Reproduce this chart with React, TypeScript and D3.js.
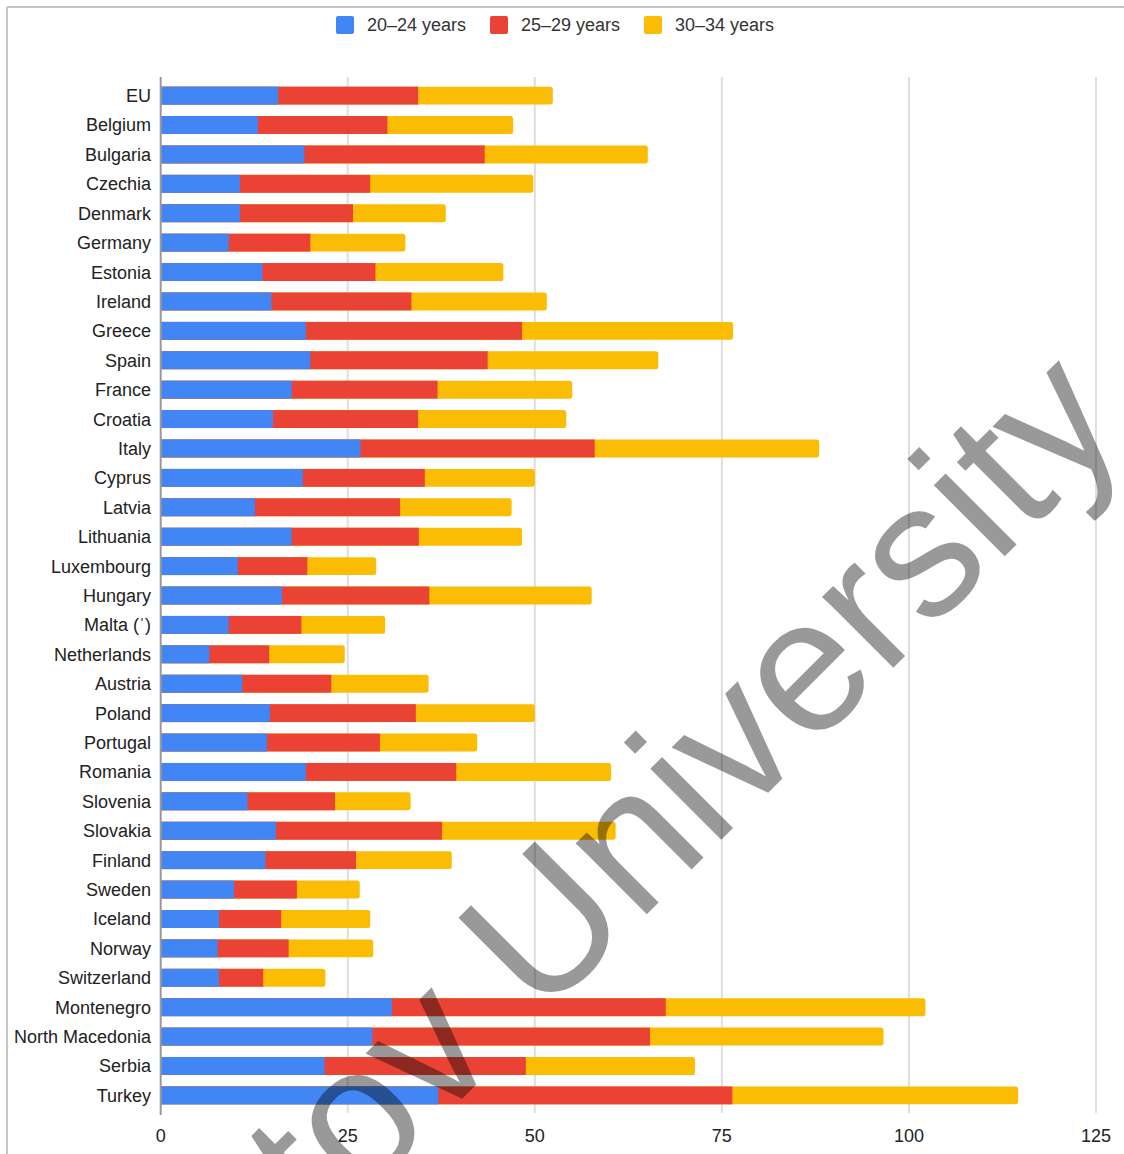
import React from "react";
import * as d3 from "d3";

const countries = [
  "EU", "Belgium", "Bulgaria", "Czechia", "Denmark", "Germany", "Estonia", "Ireland",
  "Greece", "Spain", "France", "Croatia", "Italy", "Cyprus", "Latvia", "Lithuania",
  "Luxembourg", "Hungary", "Malta (\u02c8)", "Netherlands", "Austria", "Poland", "Portugal",
  "Romania", "Slovenia", "Slovakia", "Finland", "Sweden", "Iceland", "Norway",
  "Switzerland", "Montenegro", "North Macedonia", "Serbia", "Turkey",
];

const age20to24 = [
  15.7, 13.0, 19.2, 10.6, 10.6, 9.1, 13.6, 14.8, 19.4, 20.0, 17.5, 15.0, 26.7, 19.0,
  12.6, 17.5, 10.3, 16.2, 9.1, 6.5, 10.9, 14.6, 14.2, 19.4, 11.6, 15.4, 14.0, 9.8,
  7.8, 7.6, 7.8, 30.9, 28.3, 21.9, 37.1,
];
const age25to29 = [
  18.7, 17.3, 24.1, 17.4, 15.1, 10.9, 15.1, 18.7, 28.9, 23.7, 19.5, 19.4, 31.3, 16.3,
  19.4, 17.0, 9.3, 19.7, 9.7, 8.0, 11.9, 19.5, 15.1, 20.1, 11.7, 22.2, 12.1, 8.4,
  8.3, 9.5, 5.9, 36.6, 37.1, 26.9, 39.3,
];
const age30to34 = [
  18.0, 16.8, 21.8, 21.8, 12.4, 12.7, 17.1, 18.1, 28.2, 22.8, 18.0, 19.8, 30.0, 14.7,
  14.9, 13.8, 9.2, 21.7, 11.2, 10.1, 13.0, 15.9, 13.0, 20.7, 10.1, 23.2, 12.8, 8.4,
  11.9, 11.3, 8.3, 34.7, 31.2, 22.6, 38.2,
];

const seriesNames = ["20\u201324 years", "25\u201329 years", "30\u201334 years"];
const seriesColors = ["#4285F4", "#EA4335", "#FBBC04"];
const xTicks = [0, 25, 50, 75, 100, 125];

const FONT = "Arial, 'Liberation Sans', sans-serif";

export default function App() {
  const W = 1124;
  const H = 1154;
  const x = d3.scaleLinear().domain([0, 125]).range([160.7, 1096]);
  const y = d3
    .scaleBand<string>()
    .domain(countries)
    .range([80.9, 1110.1])
    .paddingInner(0.39)
    .paddingOuter(0.195);

  const rows = countries.map((c, i) => {
    const a = age20to24[i];
    const b = age25to29[i];
    const cc = age30to34[i];
    return { c, a, ab: a + b, abc: a + b + cc };
  });

  const legendX = [336, 490, 644];
  const bh = y.bandwidth();

  return (
    <svg width={W} height={H} style={{ display: "block", position: "absolute", left: 0, top: 0 }} fontFamily={FONT}>
      <rect x={0} y={0} width={W} height={H} fill="#fff" />
      {/* frame */}
      <line x1={7} y1={7} x2={W} y2={7} stroke="#c6c6c6" strokeWidth={2} />
      <line x1={7} y1={7} x2={7} y2={H} stroke="#c6c6c6" strokeWidth={2} />

      {/* legend */}
      {seriesNames.map((s, i) => (
        <g key={s}>
          <rect x={legendX[i]} y={16} width={18} height={18} rx={2} fill={seriesColors[i]} />
          <text x={legendX[i] + 31} y={31} fontSize={18} fill="#333">{s}</text>
        </g>
      ))}

      {/* gridlines */}
      {xTicks.slice(1).map((t) => (
        <line key={t} x1={x(t)} x2={x(t)} y1={77} y2={1113} stroke="#dedede" strokeWidth={2} />
      ))}

      {/* bars */}
      {rows.map((r) => {
        const yy = y(r.c)!;
        return (
          <g key={r.c}>
            <rect x={x(0)} y={yy} width={x(r.abc) - x(0)} height={bh} rx={2.5} fill={seriesColors[2]} />
            <rect x={x(0)} y={yy} width={x(r.ab) - x(0)} height={bh} fill={seriesColors[1]} />
            <rect x={x(0)} y={yy} width={x(r.a) - x(0)} height={bh} fill={seriesColors[0]} />
          </g>
        );
      })}

      {/* axis line */}
      <line x1={x(0)} x2={x(0)} y1={77} y2={1115} stroke="#999" strokeWidth={2} />

      {/* y labels */}
      {countries.map((c) => (
        <text key={c} x={151} y={y(c)! + bh / 2} dy="0.36em" textAnchor="end" fontSize={18} fill="#222">
          {c}
        </text>
      ))}

      {/* x tick labels */}
      {xTicks.map((t) => (
        <text key={t} x={x(t)} y={1142} textAnchor="middle" fontSize={18} fill="#222">
          {t}
        </text>
      ))}

      {/* watermark */}
      <text
        transform="translate(85,1476) rotate(-45)"
        fontSize={190}
        fill="#000"
        fillOpacity={0.4}
        fontFamily={FONT}
      >
        Rostov University
      </text>
    </svg>
  );
}
